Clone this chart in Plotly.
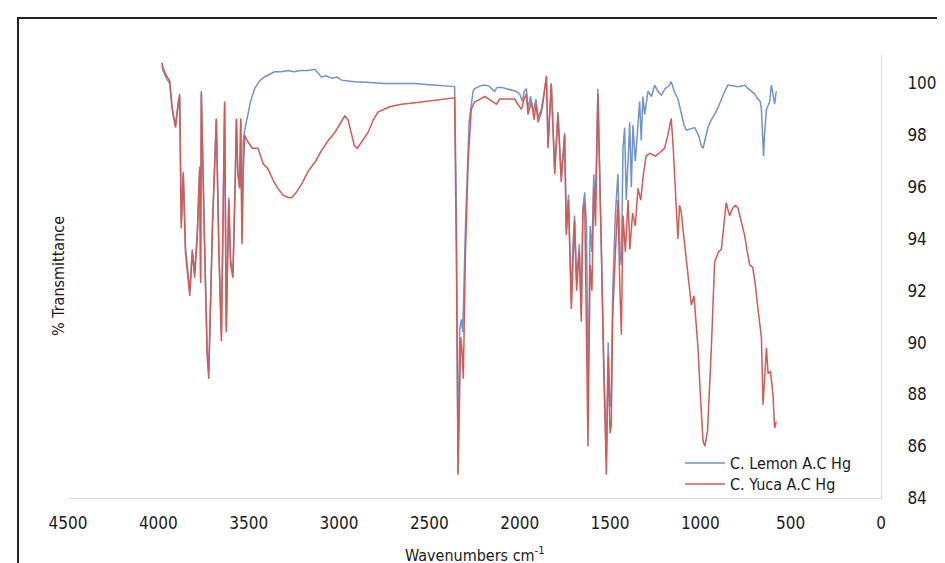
import plotly.graph_objects as go

# ---------------- data ----------------
lemon_wn = [3980, 3974, 3955, 3937, 3925, 3919, 3905, 3890, 3882, 3873, 3862, 3850, 3838, 3826, 3812,
            3799, 3785, 3771, 3766, 3762, 3745, 3730, 3721, 3700, 3679, 3665, 3651, 3640, 3633, 3624,
            3610, 3600, 3587, 3575, 3568, 3560, 3550, 3544, 3537, 3530, 3522, 3504, 3490, 3467, 3440,
            3411, 3380, 3356, 3320, 3282, 3250, 3210, 3170, 3135, 3115, 3098, 3070, 3040, 3010, 2987,
            2950, 2913, 2850, 2750, 2650, 2581, 2500, 2397, 2360, 2350, 2341, 2332, 2323, 2315, 2300,
            2280, 2258, 2249, 2220, 2194, 2170, 2138, 2125, 2100, 2070, 2046, 2020, 2000, 1985, 1975,
            1963, 1954, 1940, 1925, 1910, 1898, 1880, 1868, 1852, 1843, 1825, 1806, 1788, 1770, 1751,
            1742, 1730, 1714, 1705, 1696, 1685, 1670, 1659, 1650, 1640, 1630, 1622, 1610, 1600, 1590,
            1580, 1567, 1555, 1548, 1535, 1520, 1510, 1500, 1493, 1485, 1470, 1456, 1445, 1437, 1428,
            1419, 1410, 1400, 1391, 1382, 1373, 1360, 1345, 1336, 1327, 1318, 1308, 1290, 1270, 1253,
            1235, 1216, 1195, 1175, 1161, 1145, 1124, 1106, 1090, 1078, 1050, 1031, 1010, 995, 985,
            970, 958, 940, 921, 900, 884, 865, 847, 820, 792, 770, 755, 735, 718, 700,
            681, 668, 662, 655, 650, 645, 634, 616, 607, 598, 589, 580]
lemon_t = [100.7, 100.5, 100.2, 100.0, 99.1, 98.9, 98.4, 99.3, 99.5, 94.6, 96.6, 93.7, 92.8, 92.0, 93.6,
           92.7, 94.2, 96.8, 92.5, 99.6, 94.2, 89.8, 88.9, 94.7, 98.6, 93.7, 90.3, 95.2, 99.2, 90.6,
           95.6, 93.2, 92.7, 96.1, 98.6, 96.6, 96.0, 98.6, 94.0, 97.8, 98.2, 98.8, 99.3, 99.8, 100.1,
           100.26, 100.35, 100.45, 100.45, 100.5, 100.45, 100.5, 100.5, 100.55, 100.4, 100.25, 100.3, 100.2, 100.25, 100.13,
           100.1, 100.07, 100.05, 100.0, 100.0, 100.0, 99.95, 99.9, 99.88, 95.0, 85.0, 90.5, 90.9, 90.4, 94.5,
           98.5, 99.7, 99.8, 99.9, 99.94, 99.9, 99.7, 99.85, 99.85, 99.8, 99.75, 99.7, 99.6, 99.3, 99.7,
           99.8, 99.0, 99.5, 98.9, 99.4, 98.7, 99.0, 99.5, 100.2, 97.7, 100.0, 96.7, 98.9, 96.4, 98.1,
           94.3, 95.7, 91.6, 93.8, 94.9, 92.4, 93.8, 91.1, 95.2, 95.8, 94.5, 88.0, 94.5, 93.5, 96.5,
           95.5, 99.8, 95.5, 94.0, 89.5, 85.5, 90.0, 87.5, 88.0, 92.0, 95.0, 96.5, 93.5, 93.0, 97.5,
           98.3, 95.5, 97.0, 98.5, 96.0, 98.4, 97.0, 98.5, 99.3, 97.8, 99.5, 98.8, 99.7, 99.5, 99.94,
           99.7, 99.55, 99.8, 99.9, 100.07, 99.7, 99.4, 98.8, 98.4, 98.2, 98.25, 98.3, 98.0, 97.6, 97.5,
           97.9, 98.3, 98.6, 98.8, 99.1, 99.4, 99.7, 99.94, 99.9, 99.87, 99.9, 99.94, 99.8, 99.7, 99.6,
           99.4, 99.3, 99.0, 97.8, 97.2, 98.0, 99.0, 99.3, 99.94, 99.6, 99.2, 99.7]

yuca_wn = [3980, 3974, 3955, 3937, 3925, 3919, 3905, 3890, 3882, 3873, 3862, 3850, 3838, 3826, 3812,
           3799, 3785, 3771, 3766, 3762, 3745, 3730, 3721, 3700, 3679, 3665, 3651, 3640, 3633, 3624,
           3610, 3600, 3587, 3575, 3568, 3560, 3550, 3544, 3537, 3530, 3522, 3504, 3480, 3448, 3420,
           3393, 3360, 3338, 3310, 3282, 3260, 3236, 3200, 3172, 3130, 3098, 3060, 3024, 2990, 2968,
           2950, 2930, 2915, 2899, 2870, 2840, 2810, 2784, 2720, 2655, 2590, 2526, 2460, 2397, 2360,
           2350, 2341, 2326, 2318, 2312, 2300, 2285, 2268, 2249, 2230, 2194, 2160, 2129, 2110, 2080,
           2046, 2028, 2010, 1990, 1975, 1963, 1954, 1935, 1920, 1910, 1898, 1880, 1870, 1852, 1843,
           1825, 1806, 1788, 1770, 1751, 1742, 1730, 1714, 1705, 1696, 1685, 1670, 1659, 1650, 1640,
           1630, 1622, 1610, 1600, 1590, 1580, 1567, 1555, 1548, 1535, 1520, 1510, 1500, 1493, 1485,
           1470, 1456, 1445, 1437, 1428, 1415, 1400, 1390, 1375, 1360, 1345, 1330, 1315, 1300, 1280,
           1250, 1230, 1198, 1180, 1161, 1150, 1140, 1124, 1115, 1106, 1090, 1070, 1050, 1035, 1013,
           1000, 985, 975, 960, 939, 921, 900, 884, 870, 857, 846, 838, 820, 805, 792,
           775, 755, 740, 727, 710, 695, 681, 668, 662, 653, 645, 634, 625, 612, 598,
           589, 580]
yuca_t = [100.8, 100.6, 100.3, 100.1, 99.2, 98.8, 98.3, 99.2, 99.6, 94.4, 96.5, 93.5, 92.6, 91.8, 93.5,
          92.5, 94.0, 96.7, 92.3, 99.7, 94.0, 89.5, 88.6, 94.5, 98.65, 93.5, 90.05, 95.0, 99.3, 90.4,
          95.5, 93.0, 92.5, 96.0, 98.65, 96.5, 95.95, 98.65, 93.8, 96.5, 98.0, 97.75, 97.5, 97.5, 96.9,
          96.7, 96.2, 95.95, 95.7, 95.6, 95.6, 95.8, 96.2, 96.6, 97.0, 97.4, 97.8, 98.1, 98.5, 98.75,
          98.6, 98.0, 97.6, 97.5, 97.8, 98.1, 98.6, 98.9, 99.1, 99.2, 99.25, 99.3, 99.35, 99.4, 99.45,
          93.0, 84.9, 90.2, 89.6, 88.6, 93.5, 97.0, 99.0, 99.3, 99.35, 99.5, 99.35, 99.2, 99.4, 99.4,
          99.4, 99.4, 99.2, 99.0, 99.4, 99.6, 98.8, 99.3, 98.6, 99.2, 98.5, 98.9, 99.3, 100.3, 97.5,
          100.0, 96.5, 98.8, 96.2, 98.0, 94.15, 95.5, 91.3, 93.5, 94.7, 92.0, 93.5, 90.8, 95.0, 95.4,
          90.0, 86.0, 93.0, 92.0, 96.0, 94.5, 99.6, 95.0, 93.6, 89.0, 84.9, 89.5, 86.5, 86.8, 91.0,
          93.5, 95.5, 92.0, 90.3, 94.9, 93.5, 95.5, 93.6, 95.0, 94.5, 95.95, 95.5, 96.5, 97.2, 97.3,
          97.2, 97.3, 97.5, 98.0, 98.65, 97.5, 96.0, 94.0, 95.3, 95.05, 94.0, 92.8, 91.45, 91.8, 89.8,
          88.0, 86.2, 86.0, 86.6, 89.8, 93.1, 93.5, 93.6, 94.5, 95.4, 95.1, 94.9, 95.2, 95.3, 95.2,
          94.7, 94.15, 93.5, 93.0, 92.9, 92.2, 91.3, 90.5, 90.2, 87.6, 88.5, 89.8, 88.8, 88.9, 88.0,
          86.7, 86.95]

series_names = ["C. Lemon A.C Hg", "C. Yuca A.C Hg"]
series_colors = ["#7192CB", "#D45A53"]
x_ticks = [4500, 4000, 3500, 3000, 2500, 2000, 1500, 1000, 500, 0]
y_ticks = [84, 86, 88, 90, 92, 94, 96, 98, 100]
x_title = "Wavenumbers cm<sup>-1</sup>"
y_title = "% Transmittance"

# ---------------- layout geometry ----------------
W, H = 945, 563
L, R, T, B = 60, 72, 47, 73
PW, PH = W - L - R, H - T - B


def px2paper_x(px):
    return (px - L) / PW


def py2paper_y(py):
    return (H - B - py) / PH


FONT = "DejaVu Sans Condensed, Liberation Sans Narrow, sans-serif"
LEG_FONT = dict(size=16, family=FONT, color="#1a1a1a")

fig = go.Figure()
fig.add_trace(go.Scatter(x=lemon_wn, y=lemon_t, mode="lines", name=series_names[0], legend="legend",
                         line=dict(color=series_colors[0], width=1.5)))
fig.add_trace(go.Scatter(x=yuca_wn, y=yuca_t, mode="lines", name=series_names[1], legend="legend2",
                         line=dict(color=series_colors[1], width=1.5)))

fig.update_layout(
    width=W, height=H,
    margin=dict(l=L, r=R, t=T, b=B, pad=0),
    paper_bgcolor="white", plot_bgcolor="white",
    font=dict(family=FONT, size=17, color="#1a1a1a"),
    showlegend=True,
    legend=dict(x=px2paper_x(672), y=py2paper_y(455), xanchor="left", yanchor="middle",
                bgcolor="rgba(0,0,0,0)", font=LEG_FONT, itemwidth=40),
    legend2=dict(x=px2paper_x(672), y=py2paper_y(476), xanchor="left", yanchor="middle",
                 bgcolor="rgba(0,0,0,0)", font=LEG_FONT, itemwidth=40),
    xaxis=dict(range=[4500, 0], tickvals=x_ticks, ticktext=[str(v) for v in x_ticks],
               showgrid=False, zeroline=False, showline=True, linecolor="#D6DCE5", linewidth=1,
               ticks="outside", ticklen=0, tickcolor="rgba(0,0,0,0)", ticklabelstandoff=10),
    yaxis=dict(range=[84, 101.1], side="right", tickvals=y_ticks, ticktext=[str(v) for v in y_ticks],
               showgrid=False, zeroline=False, showline=True, linecolor="#D6DCE5", linewidth=1,
               ticks="outside", ticklen=0, tickcolor="rgba(0,0,0,0)", ticklabelstandoff=22),
    annotations=[
        dict(text=y_title, xref="paper", yref="paper", x=px2paper_x(50), y=py2paper_y(268),
             showarrow=False, textangle=-90, font=dict(size=16, family=FONT),
             xanchor="center", yanchor="middle"),
        dict(text=x_title, xref="paper", yref="paper", x=px2paper_x(467), y=py2paper_y(546),
             showarrow=False, font=dict(size=16, family=FONT), xanchor="center", yanchor="middle"),
    ],
    shapes=[
        dict(type="rect", xref="paper", yref="paper",
             x0=px2paper_x(10), x1=px2paper_x(W + 20), y0=py2paper_y(H + 20), y1=py2paper_y(10),
             line=dict(color="#222222", width=2), fillcolor="rgba(0,0,0,0)", layer="above"),
    ],
)

fig.write_html("out.html")
